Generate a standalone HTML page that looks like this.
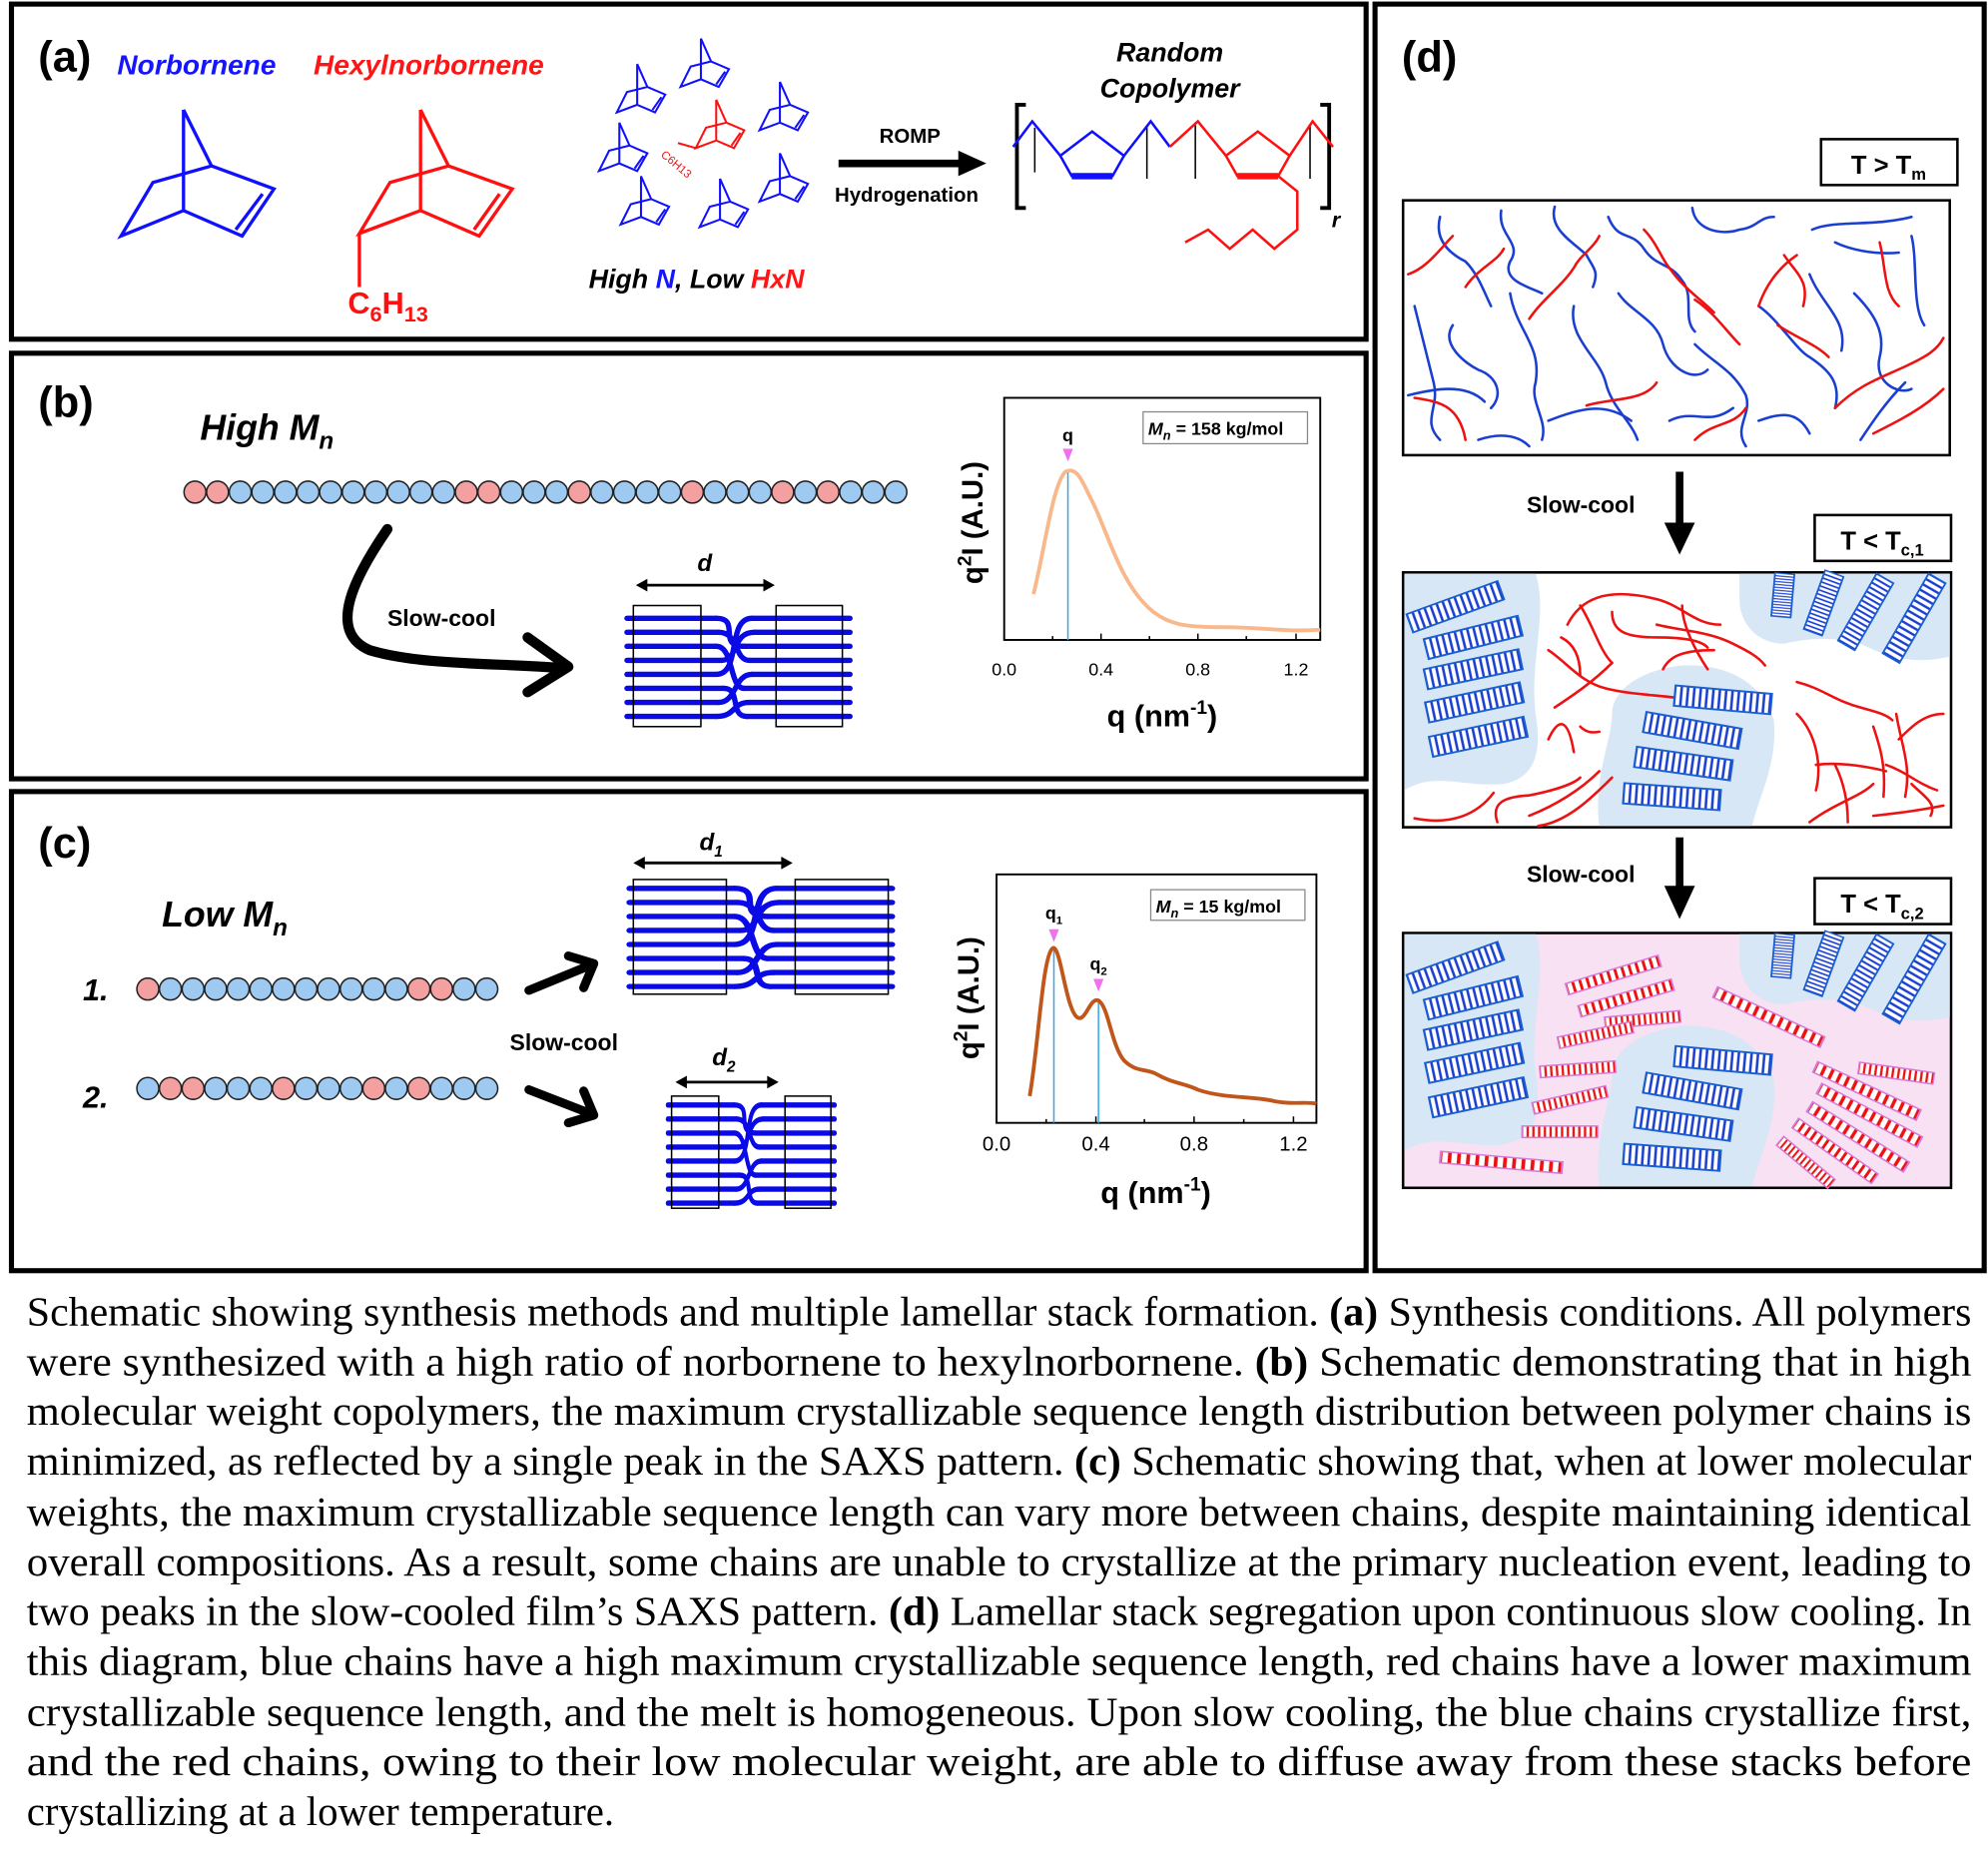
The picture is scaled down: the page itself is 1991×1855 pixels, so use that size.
<!DOCTYPE html>
<html><head><meta charset="utf-8"><style>
html,body{margin:0;padding:0;background:#fff}
svg{display:block}
text{font-family:"Liberation Sans",Arial,sans-serif}
.cap{font-family:"Liberation Serif","Times New Roman",serif;font-size:32px;fill:#000}
</style></head><body>
<svg width="1991" height="1855" viewBox="0 0 1560 1453" xmlns="http://www.w3.org/2000/svg">
<defs>
<pattern id="bs" width="5" height="10" patternUnits="userSpaceOnUse"><rect width="5" height="10" fill="#fff"/><rect x="1" width="2" height="10" fill="#1a3fd0"/></pattern>
<pattern id="rs" width="5" height="10" patternUnits="userSpaceOnUse"><rect width="5" height="10" fill="#fff"/><rect x="1" width="2" height="10" fill="#ee1111"/></pattern>
<g id="nb" fill="none" stroke-width="1.6">
<path d="M0,-22 L0,10 M0,-22 L8,-4 L22,2 L14,16 L0,10 L-16,16 L-8,0 L8,-4 M19,4 L12,14"/>
</g>
<g id="bst"><rect x="-38" y="-8" width="76" height="16" fill="url(#bs)" stroke="#1a5fd0" stroke-width="1.5"/></g>
<g id="rst"><rect x="-33" y="-4.5" width="66" height="9" fill="url(#rs)" stroke="#d67ad8" stroke-width="1.2"/></g>
<g id="stack" fill="none" stroke="#0a0ae6" stroke-width="4.2" stroke-linecap="round">
<path d="M0,3H70 M0,14H72 M0,25H70 M0,36H74 M0,47H70 M0,58H76 M0,69H72 M0,80H70"/>
<path d="M98,3H175 M100,14H175 M92,25H175 M96,36H175 M98,47H175 M92,58H175 M96,69H175 M94,80H175"/>
<path d="M70,3 C90,3 70,25 92,25 M72,14 C88,14 84,36 96,36 M70,25 C84,25 80,58 92,58 M74,36 C88,36 82,14 100,14 M70,47 C90,47 78,3 98,3 M76,58 C90,58 80,80 94,80 M72,69 C86,69 84,47 98,47 M70,80 C86,80 82,69 96,69"/>
</g>
</defs>

<!-- panel borders -->
<g fill="none" stroke="#000" stroke-width="4">
<rect x="9" y="3" width="1063" height="263"/>
<rect x="9" y="277" width="1063" height="334"/>
<rect x="9" y="621" width="1063" height="376"/>
<rect x="1079" y="3" width="478" height="994"/>
</g>

<!-- ===== (a) ===== -->
<text x="30" y="56" font-size="34" font-weight="bold">(a)</text>
<text x="92" y="58" font-size="22" font-weight="bold" font-style="italic" fill="#1515ff">Norbornene</text>
<text x="246" y="58" font-size="22" font-weight="bold" font-style="italic" fill="#ff1515">Hexylnorbornene</text>
<g fill="none" stroke="#1010ff" stroke-width="2.6">
<path d="M144,86 L144,165 M144,86 L166,130 L215,148 L190,185 L144,165 L95,185 L120,143 L166,130 M206,152 L185,180"/>
</g>
<g fill="none" stroke="#ff1010" stroke-width="2.6">
<path d="M330,86 L330,165 M330,86 L352,130 L402,148 L376,185 L330,165 L282,183 L306,143 L352,130 M392,152 L372,180 M282,183 L282,225"/>
</g>
<text x="273" y="246" font-size="24" font-weight="bold" fill="#ff1010">C<tspan font-size="17" dy="6">6</tspan><tspan dy="-6">H</tspan><tspan font-size="17" dy="6">13</tspan></text>
<!-- cluster -->
<g stroke="#1010ff">
<use href="#nb" transform="translate(500,72)"/>
<use href="#nb" transform="translate(550,52)"/>
<use href="#nb" transform="translate(612,86)"/>
<use href="#nb" transform="translate(486,118)"/>
<use href="#nb" transform="translate(612,142)"/>
<use href="#nb" transform="translate(503,160)"/>
<use href="#nb" transform="translate(565,162)"/>
</g>
<g stroke="#ff1010"><use href="#nb" transform="translate(562,100)"/><path d="M546,116 L532,112" stroke-width="1.6"/></g>
<text x="518" y="122" font-size="9" fill="#ff1010" transform="rotate(40 518 122)">C6H13</text>
<text x="462" y="226" font-size="21" font-weight="bold" font-style="italic">High <tspan fill="#1515ff">N</tspan>, Low <tspan fill="#ff1515">HxN</tspan></text>
<text x="690" y="112" font-size="16" font-weight="bold">ROMP</text>
<path d="M658,128 H755" stroke="#000" stroke-width="6"/><path d="M752,118 L774,128 L752,138Z" fill="#000"/>
<text x="655" y="158" font-size="16" font-weight="bold">Hydrogenation</text>
<text x="918" y="48" font-size="21" font-weight="bold" font-style="italic" text-anchor="middle">Random</text>
<text x="918" y="76" font-size="21" font-weight="bold" font-style="italic" text-anchor="middle">Copolymer</text>
<g fill="none" stroke="#000" stroke-width="3">
<path d="M805,82 H798 V163 H805 M1036,82 H1043 V163 H1036"/>
</g>
<g fill="none" stroke="#000" stroke-width="1.2"><path d="M812,100 V135 M900,98 V140 M938,98 V140 M1028,98 V140"/></g>
<g fill="none" stroke="#1010ff" stroke-width="2"><path d="M795,115 L810,95 L832,122 M882,122 L903,95 L918,115"/><path d="M832,122 L857,103 L882,122 L873,138 L841,138 Z"/></g>
<path d="M841,138 L873,138" stroke="#1010ff" stroke-width="5"/>
<g fill="none" stroke="#ff1010" stroke-width="2"><path d="M918,115 L940,95 L962,122 M1012,122 L1030,95 L1046,115"/><path d="M962,122 L987,103 L1012,122 L1003,138 L971,138 Z"/><path d="M1003,138 L1018,150 V180 L1000,195 L983,180 L965,195 L948,180 L930,190"/></g>
<path d="M971,138 L1003,138" stroke="#ff1010" stroke-width="5"/>
<text x="1045" y="178" font-size="17" font-style="italic" font-weight="bold">r</text>

<!-- ===== (b) ===== -->
<text x="30" y="327" font-size="34" font-weight="bold">(b)</text>
<text x="157" y="345" font-size="28" font-weight="bold" font-style="italic">High M<tspan font-size="19" dy="7">n</tspan></text>
<g stroke="#222" stroke-width="1.2" fill="#9ec9f0">
<circle cx="153" cy="386" r="8.6" fill="#f4a0a0"/><circle cx="170.7" cy="386" r="8.6" fill="#f4a0a0"/><circle cx="188.5" cy="386" r="8.6"/><circle cx="206.2" cy="386" r="8.6"/><circle cx="224" cy="386" r="8.6"/><circle cx="241.7" cy="386" r="8.6"/><circle cx="259.4" cy="386" r="8.6"/><circle cx="277.2" cy="386" r="8.6"/><circle cx="294.9" cy="386" r="8.6"/><circle cx="312.7" cy="386" r="8.6"/><circle cx="330.4" cy="386" r="8.6"/><circle cx="348.1" cy="386" r="8.6"/><circle cx="365.9" cy="386" r="8.6" fill="#f4a0a0"/><circle cx="383.6" cy="386" r="8.6" fill="#f4a0a0"/><circle cx="401.4" cy="386" r="8.6"/><circle cx="419.1" cy="386" r="8.6"/><circle cx="436.8" cy="386" r="8.6"/><circle cx="454.6" cy="386" r="8.6" fill="#f4a0a0"/><circle cx="472.3" cy="386" r="8.6"/><circle cx="490.1" cy="386" r="8.6"/><circle cx="507.8" cy="386" r="8.6"/><circle cx="525.5" cy="386" r="8.6"/><circle cx="543.3" cy="386" r="8.6" fill="#f4a0a0"/><circle cx="561" cy="386" r="8.6"/><circle cx="578.8" cy="386" r="8.6"/><circle cx="596.5" cy="386" r="8.6"/><circle cx="614.2" cy="386" r="8.6" fill="#f4a0a0"/><circle cx="632" cy="386" r="8.6"/><circle cx="649.7" cy="386" r="8.6" fill="#f4a0a0"/><circle cx="667.5" cy="386" r="8.6"/><circle cx="685.2" cy="386" r="8.6"/><circle cx="703" cy="386" r="8.6"/>
</g>
<path d="M304,415 C280,450 255,495 290,510 C330,522 390,520 440,524" fill="none" stroke="#000" stroke-width="8" stroke-linecap="round"/>
<path d="M414,500 L446,523 L414,543" fill="none" stroke="#000" stroke-width="8" stroke-linecap="round" stroke-linejoin="round"/>
<text x="304" y="491" font-size="18" font-weight="bold">Slow-cool</text>
<use href="#stack" transform="translate(492,482)"/>
<g fill="none" stroke="#000" stroke-width="1.2"><rect x="497" y="475" width="53" height="95"/><rect x="609" y="475" width="52" height="95"/></g>
<path d="M503,459 H604" stroke="#000" stroke-width="2.2"/><path d="M499,459 l9,-5 v10z M608,459 l-9,-5 v10z" fill="#000"/>
<text x="553" y="448" font-size="19" font-weight="bold" font-style="italic" text-anchor="middle">d</text>
<!-- plot b -->
<rect x="788" y="312" width="248" height="190" fill="none" stroke="#000" stroke-width="1.5"/>
<path d="M838,370 V502" stroke="#3aa8e8" stroke-width="1.2"/>
<path d="M811,466 C820,430 826,380 836,370 C846,365 850,380 858,395 C870,420 880,460 905,480 C918,490 930,492 960,492 C990,492 1010,496 1036,494" fill="none" stroke="#f8b88c" stroke-width="3"/>
<path d="M834,352 L842,352 L838,362Z" fill="#f070f0"/>
<text x="838" y="346" font-size="14" font-weight="bold" text-anchor="middle">q</text>
<rect x="897" y="323" width="129" height="25" fill="#fff" stroke="#888" stroke-width="1"/>
<text x="901" y="341" font-size="14" font-weight="bold"><tspan font-style="italic">M</tspan><tspan font-size="10" dy="4" font-style="italic">n</tspan><tspan dy="-4"> = 158 kg/mol</tspan></text>
<g font-size="14" text-anchor="middle"><text x="788" y="530">0.0</text><text x="864" y="530">0.4</text><text x="940" y="530">0.8</text><text x="1017" y="530">1.2</text></g>
<g stroke="#000" stroke-width="1.2"><path d="M788,502 v-5 M826,502 v-3 M864,502 v-5 M902,502 v-3 M940,502 v-5 M978,502 v-3 M1017,502 v-5"/></g>
<text x="912" y="570" font-size="24" font-weight="bold" text-anchor="middle">q (nm<tspan font-size="15" dy="-10">-1</tspan><tspan dy="10">)</tspan></text>
<text transform="translate(771,410) rotate(-90)" font-size="23" font-weight="bold" text-anchor="middle">q<tspan font-size="15" dy="-9">2</tspan><tspan dy="9">I (A.U.)</tspan></text>

<!-- ===== (c) ===== -->
<text x="30" y="673" font-size="34" font-weight="bold">(c)</text>
<text x="127" y="727" font-size="28" font-weight="bold" font-style="italic">Low M<tspan font-size="19" dy="7">n</tspan></text>
<text x="65" y="785" font-size="24" font-weight="bold" font-style="italic">1.</text>
<text x="65" y="869" font-size="24" font-weight="bold" font-style="italic">2.</text>
<g stroke="#222" stroke-width="1.2" fill="#9ec9f0">
<circle cx="116" cy="776" r="8.6" fill="#f4a0a0"/><circle cx="133.7" cy="776" r="8.6"/><circle cx="151.5" cy="776" r="8.6"/><circle cx="169.2" cy="776" r="8.6"/><circle cx="186.9" cy="776" r="8.6"/><circle cx="204.7" cy="776" r="8.6"/><circle cx="222.4" cy="776" r="8.6"/><circle cx="240.1" cy="776" r="8.6"/><circle cx="257.8" cy="776" r="8.6"/><circle cx="275.6" cy="776" r="8.6"/><circle cx="293.3" cy="776" r="8.6"/><circle cx="311" cy="776" r="8.6"/><circle cx="328.8" cy="776" r="8.6" fill="#f4a0a0"/><circle cx="346.5" cy="776" r="8.6" fill="#f4a0a0"/><circle cx="364.2" cy="776" r="8.6"/><circle cx="382" cy="776" r="8.6"/>
<circle cx="116" cy="854" r="8.6"/><circle cx="133.7" cy="854" r="8.6" fill="#f4a0a0"/><circle cx="151.5" cy="854" r="8.6" fill="#f4a0a0"/><circle cx="169.2" cy="854" r="8.6"/><circle cx="186.9" cy="854" r="8.6"/><circle cx="204.7" cy="854" r="8.6"/><circle cx="222.4" cy="854" r="8.6" fill="#f4a0a0"/><circle cx="240.1" cy="854" r="8.6"/><circle cx="257.8" cy="854" r="8.6"/><circle cx="275.6" cy="854" r="8.6"/><circle cx="293.3" cy="854" r="8.6" fill="#f4a0a0"/><circle cx="311" cy="854" r="8.6"/><circle cx="328.8" cy="854" r="8.6" fill="#f4a0a0"/><circle cx="346.5" cy="854" r="8.6"/><circle cx="364.2" cy="854" r="8.6"/><circle cx="382" cy="854" r="8.6"/>
</g>
<g fill="none" stroke="#000" stroke-width="7" stroke-linecap="round" stroke-linejoin="round">
<path d="M415,777 L464,757 M446,750 L466,756 L458,775"/>
<path d="M415,855 L464,874 M458,856 L466,875 L446,881"/>
</g>
<text x="400" y="824" font-size="18" font-weight="bold">Slow-cool</text>
<use href="#stack" transform="translate(494,694) scale(1.177,1)"/>
<g fill="none" stroke="#000" stroke-width="1.2"><rect x="497" y="690" width="73" height="90"/><rect x="624" y="690" width="73" height="90"/></g>
<path d="M502,677 H617" stroke="#000" stroke-width="2.2"/><path d="M497,677 l9,-5 v10z M622,677 l-9,-5 v10z" fill="#000"/>
<text x="558" y="667" font-size="19" font-weight="bold" font-style="italic" text-anchor="middle">d<tspan font-size="12" dy="5">1</tspan></text>
<use href="#stack" transform="translate(524,864) scale(0.749,1)"/>
<g fill="none" stroke="#000" stroke-width="1.2"><rect x="527" y="860" width="37" height="88"/><rect x="616" y="860" width="36" height="88"/></g>
<path d="M535,849 H606" stroke="#000" stroke-width="2.2"/><path d="M530,849 l9,-5 v10z M611,849 l-9,-5 v10z" fill="#000"/>
<text x="568" y="836" font-size="19" font-weight="bold" font-style="italic" text-anchor="middle">d<tspan font-size="12" dy="5">2</tspan></text>
<!-- plot c -->
<rect x="782" y="686" width="251" height="195" fill="none" stroke="#000" stroke-width="1.5"/>
<path d="M827,744 V881" stroke="#3aa8e8" stroke-width="1.2"/>
<path d="M862,785 V881" stroke="#3aa8e8" stroke-width="1.2"/>
<path d="M808,860 C815,820 818,750 826,744 C832,740 836,790 845,798 C852,803 855,782 862,785 C870,790 872,820 882,832 C892,842 900,838 908,843 C920,850 930,850 940,855 C960,862 985,860 1000,864 C1015,867 1025,864 1033,866" fill="none" stroke="#c0561a" stroke-width="3"/>
<path d="M823,729 L831,729 L827,739Z" fill="#f070f0"/>
<path d="M858,768 L866,768 L862,778Z" fill="#f070f0"/>
<text x="827" y="721" font-size="14" font-weight="bold" text-anchor="middle">q<tspan font-size="9" dy="4">1</tspan></text>
<text x="862" y="761" font-size="14" font-weight="bold" text-anchor="middle">q<tspan font-size="9" dy="4">2</tspan></text>
<rect x="903" y="698" width="121" height="24" fill="#fff" stroke="#888" stroke-width="1"/>
<text x="907" y="716" font-size="14" font-weight="bold"><tspan font-style="italic">M</tspan><tspan font-size="10" dy="4" font-style="italic">n</tspan><tspan dy="-4"> = 15 kg/mol</tspan></text>
<g font-size="16" text-anchor="middle"><text x="782" y="903">0.0</text><text x="860" y="903">0.4</text><text x="937" y="903">0.8</text><text x="1015" y="903">1.2</text></g>
<g stroke="#000" stroke-width="1.2"><path d="M782,881 v-5 M821,881 v-3 M860,881 v-5 M898,881 v-3 M937,881 v-5 M976,881 v-3 M1015,881 v-5"/></g>
<text x="907" y="944" font-size="24" font-weight="bold" text-anchor="middle">q (nm<tspan font-size="15" dy="-10">-1</tspan><tspan dy="10">)</tspan></text>
<text transform="translate(768,783) rotate(-90)" font-size="23" font-weight="bold" text-anchor="middle">q<tspan font-size="15" dy="-9">2</tspan><tspan dy="9">I (A.U.)</tspan></text>

<!-- ===== (d) ===== -->
<text x="1100" y="56" font-size="34" font-weight="bold">(d)</text>
<g fill="#fff" stroke="#000" stroke-width="2">
<rect x="1429" y="109" width="107" height="36"/>
<rect x="1424" y="404" width="107" height="36"/>
<rect x="1424" y="689" width="107" height="36"/>
</g>
<text x="1482" y="136" font-size="20" font-weight="bold" text-anchor="middle">T &gt; T<tspan font-size="13" dy="5">m</tspan></text>
<text x="1477" y="431" font-size="20" font-weight="bold" text-anchor="middle">T &lt; T<tspan font-size="13" dy="5">c,1</tspan></text>
<text x="1477" y="716" font-size="20" font-weight="bold" text-anchor="middle">T &lt; T<tspan font-size="13" dy="5">c,2</tspan></text>
<text x="1198" y="402" font-size="18" font-weight="bold">Slow-cool</text>
<text x="1198" y="692" font-size="18" font-weight="bold">Slow-cool</text>
<path d="M1318,370 V412" stroke="#000" stroke-width="6"/><path d="M1306,410 L1330,410 L1318,435Z" fill="#000"/>
<path d="M1318,657 V697" stroke="#000" stroke-width="6"/><path d="M1306,695 L1330,695 L1318,721Z" fill="#000"/>

<!-- box 1 -->
<rect x="1101" y="157" width="429" height="200" fill="#fff" stroke="#000" stroke-width="2"/>
<g fill="none" stroke-width="2" stroke-linecap="round">
<g stroke="#1a3fd0">
<path d="M1130,170 C1125,190 1140,200 1150,205 C1160,215 1165,230 1170,240"/>
<path d="M1178,165 C1175,185 1195,190 1185,205 C1178,220 1200,225 1210,230"/>
<path d="M1220,162 C1215,180 1235,190 1245,200 C1250,210 1255,212 1250,225"/>
<path d="M1262,170 C1270,190 1280,180 1290,195 C1300,210 1310,205 1320,220 C1330,232 1320,250 1330,260"/>
<path d="M1328,163 C1330,180 1350,185 1365,180 C1380,178 1380,170 1392,170"/>
<path d="M1422,180 C1440,172 1470,178 1500,170"/>
<path d="M1440,190 C1450,195 1470,200 1490,198 M1500,185 C1505,205 1500,240 1510,255"/>
<path d="M1110,240 C1115,260 1120,280 1125,300 C1130,320 1115,330 1130,345"/>
<path d="M1140,255 C1130,270 1150,285 1160,290 C1175,295 1180,310 1170,320"/>
<path d="M1185,230 C1190,260 1210,270 1205,300 C1200,315 1215,330 1210,345"/>
<path d="M1235,240 C1230,265 1255,280 1260,300 C1265,320 1280,330 1285,345"/>
<path d="M1270,230 C1280,245 1300,250 1305,270 C1310,290 1330,300 1340,290"/>
<path d="M1330,270 C1345,285 1360,290 1370,310 C1375,325 1360,335 1370,350"/>
<path d="M1380,240 C1395,250 1410,275 1420,280 C1435,290 1445,300 1440,320"/>
<path d="M1455,230 C1470,245 1480,260 1475,280 C1470,300 1490,310 1500,305"/>
<path d="M1495,300 C1480,315 1470,330 1460,345"/>
<path d="M1105,310 C1125,305 1150,300 1165,315"/>
<path d="M1215,330 C1240,320 1260,315 1280,330"/>
<path d="M1380,330 C1395,325 1410,320 1420,340"/>
<path d="M1160,345 C1175,340 1190,340 1200,350"/>
<path d="M1310,330 C1330,320 1340,335 1360,320"/>
<path d="M1420,215 C1430,240 1450,250 1445,275"/>
</g>
<g stroke="#ee1111">
<path d="M1105,215 C1120,210 1130,195 1140,185"/>
<path d="M1150,225 C1160,210 1175,205 1180,195"/>
<path d="M1200,250 C1210,235 1225,225 1235,210 C1240,200 1250,195 1255,185"/>
<path d="M1290,180 C1300,190 1305,205 1310,210 C1320,225 1335,235 1345,245"/>
<path d="M1400,200 C1410,215 1420,220 1415,240 M1410,200 C1395,210 1385,225 1380,240"/>
<path d="M1475,190 C1480,210 1478,230 1490,240"/>
<path d="M1440,320 C1460,300 1480,295 1500,285 C1510,280 1520,275 1525,265"/>
<path d="M1110,312 C1130,315 1145,318 1150,345"/>
<path d="M1245,318 C1265,312 1290,315 1300,300"/>
<path d="M1330,345 C1345,330 1360,335 1370,320"/>
<path d="M1470,340 C1490,330 1510,320 1525,305"/>
<path d="M1330,235 C1345,245 1355,260 1365,270"/>
<path d="M1395,255 C1410,265 1425,270 1435,280"/>
</g>
</g>

<!-- box 2 -->
<rect x="1101" y="449" width="430" height="200" fill="#fff" stroke="#000" stroke-width="2"/>
<g fill="#d8e7f5">
<path d="M1102,450 H1205 C1215,480 1200,520 1205,560 C1210,590 1205,610 1180,615 C1150,618 1125,605 1102,620 Z"/>
<path d="M1365,450 H1530 V515 C1500,522 1480,515 1460,505 C1440,500 1420,500 1400,505 C1380,505 1365,490 1365,470 Z"/>
<path d="M1255,648 C1250,610 1265,580 1265,560 C1265,540 1290,525 1320,522 C1360,520 1385,540 1392,565 C1395,600 1380,625 1375,648 Z"/>
</g>
<g fill="none" stroke="#ee1111" stroke-width="2" stroke-linecap="round">
<path d="M1230,490 C1240,470 1260,460 1300,470 C1320,475 1330,490 1350,490"/>
<path d="M1300,490 C1320,495 1340,495 1360,505 C1370,510 1380,515 1385,522"/>
<path d="M1240,475 C1250,490 1255,510 1265,520"/>
<path d="M1265,480 C1265,495 1275,500 1300,500 C1320,500 1335,502 1340,508"/>
<path d="M1215,510 C1230,520 1240,535 1260,540 C1280,545 1300,545 1320,548"/>
<path d="M1225,500 C1235,505 1240,515 1240,530"/>
<path d="M1220,555 C1235,545 1250,535 1265,520"/>
<path d="M1320,475 C1320,490 1330,510 1340,525"/>
<path d="M1305,525 C1310,515 1320,510 1345,510"/>
<path d="M1215,580 C1222,565 1230,560 1235,590"/>
<path d="M1240,570 C1245,575 1250,575 1255,574"/>
<path d="M1110,642 C1140,648 1160,638 1172,622"/>
<path d="M1175,645 C1170,630 1180,625 1200,624 C1220,620 1235,615 1240,610"/>
<path d="M1200,640 C1220,632 1240,620 1255,605"/>
<path d="M1207,648 C1230,645 1250,625 1265,610"/>
<path d="M1410,535 C1430,540 1440,550 1460,555 C1470,558 1480,560 1485,565"/>
<path d="M1410,560 C1425,575 1430,600 1425,620"/>
<path d="M1425,600 C1440,598 1460,600 1480,605"/>
<path d="M1470,570 C1475,585 1480,600 1478,625"/>
<path d="M1440,600 C1445,610 1450,625 1450,645 M1420,645 C1440,630 1460,625 1470,615"/>
<path d="M1480,600 C1495,605 1505,615 1520,620"/>
<path d="M1490,580 C1500,570 1510,560 1525,560"/>
<path d="M1500,615 C1510,625 1520,630 1515,640"/>
<path d="M1470,640 C1490,638 1505,636 1525,632"/>
<path d="M1488,560 C1492,585 1500,600 1495,625"/>
</g>
<g>
<use href="#bst" transform="translate(1142,476) rotate(-20) scale(1,0.95)"/>
<use href="#bst" transform="translate(1156,500) rotate(-14)"/>
<use href="#bst" transform="translate(1156,525) rotate(-12)"/>
<use href="#bst" transform="translate(1157,551) rotate(-12)"/>
<use href="#bst" transform="translate(1160,578) rotate(-12)"/>
<use href="#bst" transform="translate(1352,549) rotate(5)"/>
<use href="#bst" transform="translate(1328,573) rotate(10)"/>
<use href="#bst" transform="translate(1321,599) rotate(8)"/>
<use href="#bst" transform="translate(1312,625) rotate(4)"/>
<use href="#bst" transform="translate(1399,467) rotate(95) scale(0.45,0.95)"/>
<use href="#bst" transform="translate(1431,473) rotate(110) scale(0.65,0.95)"/>
<use href="#bst" transform="translate(1464,480) rotate(120) scale(0.8,0.95)"/>
<use href="#bst" transform="translate(1502,485) rotate(120) scale(0.95,0.95)"/>
</g>

<!-- box 3 -->
<rect x="1101" y="732" width="430" height="200" fill="#f7e1f3" stroke="#000" stroke-width="2"/>
<g fill="#d8e7f5">
<path d="M1102,733 H1205 C1215,763 1200,803 1205,843 C1210,873 1205,893 1180,898 C1150,901 1125,888 1102,903 Z"/>
<path d="M1365,733 H1530 V798 C1500,805 1480,798 1460,788 C1440,783 1420,783 1400,788 C1380,788 1365,773 1365,753 Z"/>
<path d="M1255,931 C1250,893 1265,863 1265,843 C1265,823 1290,808 1320,805 C1360,803 1385,823 1392,848 C1395,883 1380,908 1375,931 Z"/>
</g>
<g>
<use href="#bst" transform="translate(1142,759) rotate(-20) scale(1,0.95)"/>
<use href="#bst" transform="translate(1156,783) rotate(-14)"/>
<use href="#bst" transform="translate(1156,808) rotate(-12)"/>
<use href="#bst" transform="translate(1157,834) rotate(-12)"/>
<use href="#bst" transform="translate(1160,861) rotate(-12)"/>
<use href="#bst" transform="translate(1352,832) rotate(5)"/>
<use href="#bst" transform="translate(1328,856) rotate(10)"/>
<use href="#bst" transform="translate(1321,882) rotate(8)"/>
<use href="#bst" transform="translate(1312,908) rotate(4)"/>
<use href="#bst" transform="translate(1399,750) rotate(95) scale(0.45,0.95)"/>
<use href="#bst" transform="translate(1431,756) rotate(110) scale(0.65,0.95)"/>
<use href="#bst" transform="translate(1464,763) rotate(120) scale(0.8,0.95)"/>
<use href="#bst" transform="translate(1502,768) rotate(120) scale(0.95,0.95)"/>
<use href="#rst" transform="translate(1266,765) rotate(-17) scale(1.15,1)"/>
<use href="#rst" transform="translate(1276,783) rotate(-16) scale(1.15,1)"/>
<use href="#rst" transform="translate(1289,800) rotate(-5) scale(0.9,1)"/>
<use href="#rst" transform="translate(1252,812) rotate(-12) scale(0.9,1)"/>
<use href="#rst" transform="translate(1238,839) rotate(-4) scale(0.9,1)"/>
<use href="#rst" transform="translate(1232,863) rotate(-13) scale(0.9,1)"/>
<use href="#rst" transform="translate(1224,888) rotate(0) scale(0.9,1)"/>
<use href="#rst" transform="translate(1178,912) rotate(5) scale(1.45,1)"/>
<use href="#rst" transform="translate(1388,798) rotate(25) scale(1.4,1)"/>
<use href="#rst" transform="translate(1488,842) rotate(8) scale(0.9,1)"/>
<use href="#rst" transform="translate(1465,856) rotate(25) scale(1.35,1)"/>
<use href="#rst" transform="translate(1467,875) rotate(28) scale(1.35,1)"/>
<use href="#rst" transform="translate(1458,892) rotate(32) scale(1.35,1)"/>
<use href="#rst" transform="translate(1440,903) rotate(35) scale(1.15,1)"/>
<use href="#rst" transform="translate(1417,912) rotate(40) scale(0.8,1)"/>
</g>

<!-- caption -->
<g>
<text class="cap" x="21" y="1040" textLength="1526" lengthAdjust="spacingAndGlyphs">Schematic showing synthesis methods and multiple lamellar stack formation. <tspan font-weight="bold">(a)</tspan> Synthesis conditions. All polymers</text>
<text class="cap" x="21" y="1079" textLength="1526" lengthAdjust="spacingAndGlyphs">were synthesized with a high ratio of norbornene to hexylnorbornene. <tspan font-weight="bold">(b)</tspan> Schematic demonstrating that in high</text>
<text class="cap" x="21" y="1118" textLength="1526" lengthAdjust="spacingAndGlyphs">molecular weight copolymers, the maximum crystallizable sequence length distribution between polymer chains is</text>
<text class="cap" x="21" y="1157" textLength="1526" lengthAdjust="spacingAndGlyphs">minimized, as reflected by a single peak in the SAXS pattern. <tspan font-weight="bold">(c)</tspan> Schematic showing that, when at lower molecular</text>
<text class="cap" x="21" y="1197" textLength="1526" lengthAdjust="spacingAndGlyphs">weights, the maximum crystallizable sequence length can vary more between chains, despite maintaining identical</text>
<text class="cap" x="21" y="1236" textLength="1526" lengthAdjust="spacingAndGlyphs">overall compositions. As a result, some chains are unable to crystallize at the primary nucleation event, leading to</text>
<text class="cap" x="21" y="1275" textLength="1526" lengthAdjust="spacingAndGlyphs">two peaks in the slow-cooled film’s SAXS pattern. <tspan font-weight="bold">(d)</tspan> Lamellar stack segregation upon continuous slow cooling. In</text>
<text class="cap" x="21" y="1314" textLength="1526" lengthAdjust="spacingAndGlyphs">this diagram, blue chains have a high maximum crystallizable sequence length, red chains have a lower maximum</text>
<text class="cap" x="21" y="1354" textLength="1526" lengthAdjust="spacingAndGlyphs">crystallizable sequence length, and the melt is homogeneous. Upon slow cooling, the blue chains crystallize first,</text>
<text class="cap" x="21" y="1393" textLength="1526" lengthAdjust="spacingAndGlyphs">and the red chains, owing to their low molecular weight, are able to diffuse away from these stacks before</text>
<text class="cap" x="21" y="1432">crystallizing at a lower temperature.</text>
</g>
</svg>
</body></html>
